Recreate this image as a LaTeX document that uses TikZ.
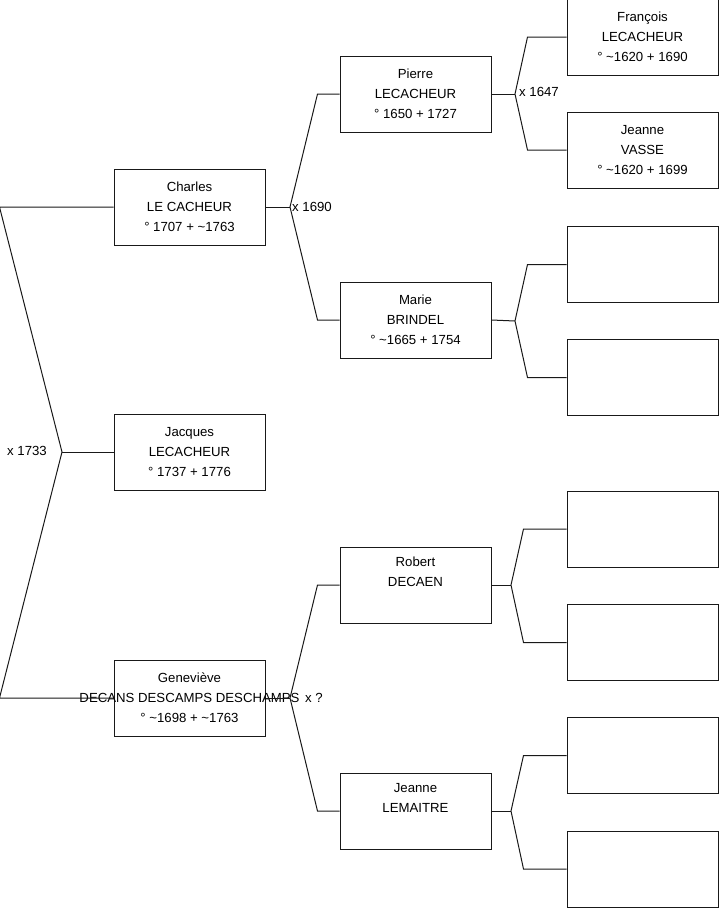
\documentclass[tikz,border=0pt]{standalone}
\usepackage{fontspec}
\setmainfont{Liberation Sans}
\usepackage{tikz}
\usetikzlibrary{positioning,calc}

\begin{document}
\begin{tikzpicture}[
    x=1pt, y=-1pt,
    person/.style={draw=black!90, line width=1pt, minimum width=151pt, minimum height=76pt, inner sep=0pt, align=center, font=\fontsize{13.2}{20}\selectfont},
    mlabel/.style={font=\fontsize{13.2}{15}\selectfont, inner sep=0pt},
    link/.style={draw=black!90, line width=1pt}
]
\useasboundingbox (0,0) rectangle (719,908);

% generation 1
\node[person] (charles) at (189.5,207) {Charles\\LE CACHEUR\\° 1707 + \textasciitilde1763};
\node[person] (jacques) at (189.5,452) {Jacques\\LECACHEUR\\° 1737 + 1776};
\node[person] (genevieve) at (189.5,698) {Geneviève\\\makebox[0pt]{DECANS DESCAMPS DESCHAMPS}\\° \textasciitilde1698 + \textasciitilde1763};

% generation 2
\node[person] (pierre) at (415.5,94) {Pierre\\LECACHEUR\\° 1650 + 1727};
\node[person] (marie) at (415.5,320) {Marie\\BRINDEL\\° \textasciitilde1665 + 1754};
\node[person] (robert) at (415.5,585) {Robert\\DECAEN\\\strut};
\node[person] (jeanneL) at (415.5,811) {Jeanne\\LEMAITRE\\\strut};

% generation 3
\node[person] (francois) at (642.5,37) {François\\LECACHEUR\\° \textasciitilde1620 + 1690};
\node[person] (jeanneV) at (642.5,150) {Jeanne\\VASSE\\° \textasciitilde1620 + 1699};
\node[person] (e1) at (642.5,264.5) {};
\node[person] (e2) at (642.5,377.5) {};
\node[person] (e3) at (642.5,529) {};
\node[person] (e4) at (642.5,642.5) {};
\node[person] (e5) at (642.5,755.5) {};
\node[person] (e6) at (642.5,869) {};

% marriage points
\coordinate (m1733) at (62,452);
\coordinate (m1690) at (290,207);
\coordinate (m1647) at (515,94);
\coordinate (mMarie) at (515,321);
\coordinate (mGen) at (290,698);
\coordinate (mRobert) at (511,585);
\coordinate (mJeanne) at (511,811);

\node[mlabel, anchor=east] (l1733) at (47,451) {x 1733};
\node[mlabel, anchor=west] (l1690) at (292,207) {x 1690};
\node[mlabel, anchor=west] (l1647) at (519,92) {x 1647};
\node[mlabel, anchor=west] (lGen) at (305,698) {x ?};

\draw[link] (charles.west) -- ([xshift=-114pt]charles.west) -- (m1733) -- ([xshift=-114pt]genevieve.west) -- (genevieve.west);
\draw[link] (m1733) -- (jacques.west);

\draw[link] (charles.east) -- (m1690);
\draw[link] (pierre.west) -- ([xshift=-22pt]pierre.west) -- (m1690) -- ([xshift=-22pt]marie.west) -- (marie.west);
\draw[link] (genevieve.east) -- (mGen);
\draw[link] (robert.west) -- ([xshift=-22pt]robert.west) -- (mGen) -- ([xshift=-22pt]jeanneL.west) -- (jeanneL.west);

\draw[link] (pierre.east) -- (m1647);
\draw[link] (francois.west) -- ([xshift=-39pt]francois.west) -- (m1647) -- ([xshift=-39pt]jeanneV.west) -- (jeanneV.west);
\draw[link] (marie.east) -- (mMarie);
\draw[link] (e1.west) -- ([xshift=-39pt]e1.west) -- (mMarie) -- ([xshift=-39pt]e2.west) -- (e2.west);
\draw[link] (robert.east) -- (mRobert);
\draw[link] (e3.west) -- ([xshift=-43pt]e3.west) -- (mRobert) -- ([xshift=-43pt]e4.west) -- (e4.west);
\draw[link] (jeanneL.east) -- (mJeanne);
\draw[link] (e5.west) -- ([xshift=-43pt]e5.west) -- (mJeanne) -- ([xshift=-43pt]e6.west) -- (e6.west);
\end{tikzpicture}
\end{document}
